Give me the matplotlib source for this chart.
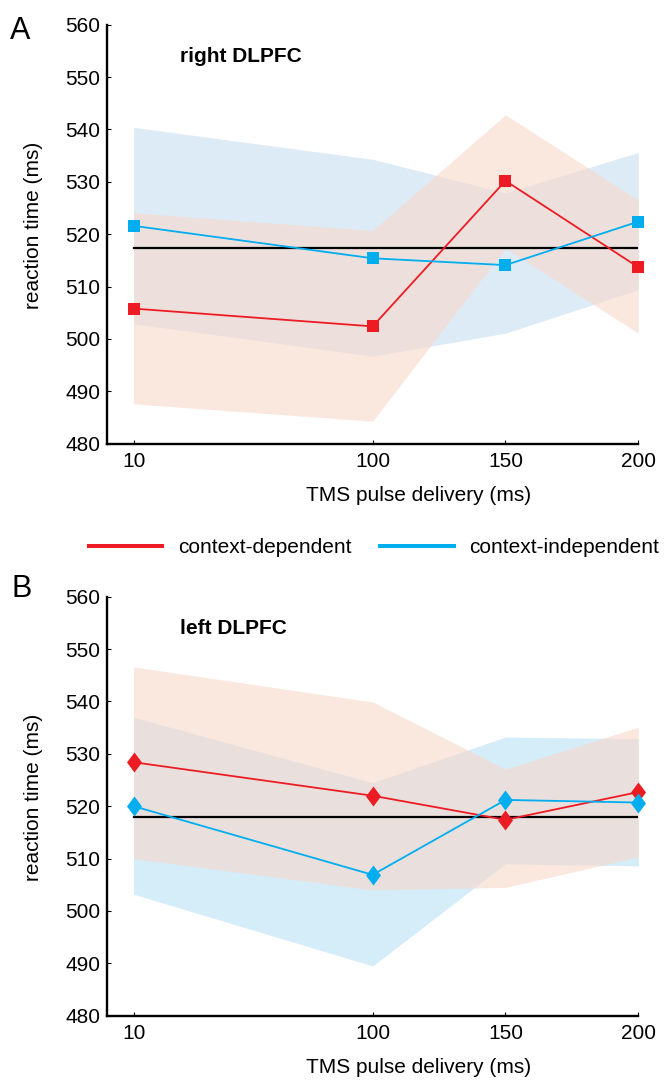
import matplotlib
matplotlib.use("Agg")
import matplotlib.pyplot as plt
from matplotlib.lines import Line2D
from matplotlib.path import Path

plt.rcParams['font.family'] = ['Liberation Sans', 'DejaVu Sans']

# ---- data ----
pulse_times = [10, 100, 150, 200]
xtick_labels = ['10', '100', '150', '200']
yticks = [480, 490, 500, 510, 520, 530, 540, 550, 560]

# Panel A: right DLPFC
red_mean_A = [505.8, 502.4, 530.2, 513.7]
red_lo_A = [487.6, 484.3, 517.3, 501.1]
red_hi_A = [524.1, 520.7, 542.8, 526.5]
blue_mean_A = [521.6, 515.4, 514.1, 522.4]
blue_lo_A = [502.9, 496.7, 501.1, 509.4]
blue_hi_A = [540.4, 534.3, 527.9, 535.6]

# Panel B: left DLPFC
red_mean_B = [528.4, 522.0, 517.4, 522.7]
red_lo_B = [510.0, 504.0, 504.5, 510.3]
red_hi_B = [546.6, 539.9, 527.1, 535.1]
blue_mean_B = [520.0, 506.9, 521.2, 520.7]
blue_lo_B = [503.2, 489.5, 509.0, 508.6]
blue_hi_B = [537.0, 524.5, 533.2, 532.9]

baselines = [517.3, 518.0]
titles = ['right DLPFC', 'left DLPFC']
panel_letters = ['A', 'B']
series_names = ['context-dependent', 'context-independent']

RED = '#ED1C24'
BLUE = '#00AEEF'
PEACH = (248/255, 217/255, 203/255)
BLUE_FILL = [(221/255, 235/255, 246/255), (213/255, 236/255, 249/255)]

W, H = 666, 1080
fig = plt.figure(figsize=(W/100, H/100), dpi=100)

diamond = Path([(0, 1), (0.75, 0), (0, -1), (-0.75, 0), (0, 1)],
               [Path.MOVETO, Path.LINETO, Path.LINETO, Path.LINETO, Path.CLOSEPOLY])

panels = [
    dict(rm=red_mean_A, rl=red_lo_A, rh=red_hi_A, bm=blue_mean_A, bl=blue_lo_A, bh=blue_hi_A,
         marker='s', ms=9.2, top=24.7, bottom=443.7),
    dict(rm=red_mean_B, rl=red_lo_B, rh=red_hi_B, bm=blue_mean_B, bl=blue_lo_B, bh=blue_hi_B,
         marker=diamond, ms=14.4, top=596.7, bottom=1015.7),
]

left_px, right_px = 107, 638.3
for i, p in enumerate(panels):
    ax = fig.add_axes([left_px/W, 1 - p['bottom']/H, (right_px-left_px)/W, (p['bottom']-p['top'])/H])
    ax.fill_between(pulse_times, p['bl'], p['bh'], color=BLUE_FILL[i], lw=0, zorder=1)
    ax.fill_between(pulse_times, p['rl'], p['rh'], color=PEACH, alpha=0.6, lw=0, zorder=2)
    ax.plot([pulse_times[0], pulse_times[-1]], [baselines[i]]*2, color='black', lw=1.6, zorder=3)
    ax.plot(pulse_times, p['rm'], color=RED, lw=1.3, marker=p['marker'], ms=p['ms'],
            mew=0, zorder=4, clip_on=False)
    ax.plot(pulse_times, p['bm'], color=BLUE, lw=1.3, marker=p['marker'], ms=p['ms'],
            mew=0, zorder=5, clip_on=False)
    ax.set_xlim(0, 200)
    ax.set_ylim(480, 560)
    ax.set_xticks(pulse_times)
    ax.set_xticklabels(xtick_labels)
    ax.set_yticks(yticks)
    for s in ['top', 'right']:
        ax.spines[s].set_visible(False)
    for s in ['left', 'bottom']:
        ax.spines[s].set_linewidth(1.7)
    ax.spines['left'].set_bounds(480, 560)
    ax.spines['bottom'].set_bounds(0, 200)
    ax.tick_params(direction='in', length=2.7, width=0.8, labelsize=15)
    ax.tick_params(axis='y', pad=5)
    ax.tick_params(axis='x', pad=6)
    ax.set_ylabel('reaction time (ms)', fontsize=15)
    ax.yaxis.set_label_coords(-0.1205, 0.52)
    ax.set_xlabel('TMS pulse delivery (ms)', fontsize=15)
    ax.xaxis.set_label_coords(0.587, -0.101)
    ax.text(0.1374, 0.911, titles[i], transform=ax.transAxes, fontsize=15,
            fontweight='bold', ha='left', va='baseline')
    ax.patch.set_alpha(0)

fig.text(10/W, 1 - 39/H, panel_letters[0], fontsize=22, ha='left', va='baseline')
fig.text(11/W, 1 - 597/H, panel_letters[1], fontsize=22, ha='left', va='baseline')

handles = [Line2D([], [], color=RED, lw=2.9), Line2D([], [], color=BLUE, lw=2.9)]
fig.legend(handles, series_names, loc='center left', bbox_to_anchor=(89/W, 1 - 547.7/H),
           ncol=2, frameon=False, fontsize=15, borderpad=0, borderaxespad=0,
           handlelength=3.52, handletextpad=0.76, columnspacing=1.38)

fig.savefig('out.png', dpi=100)
